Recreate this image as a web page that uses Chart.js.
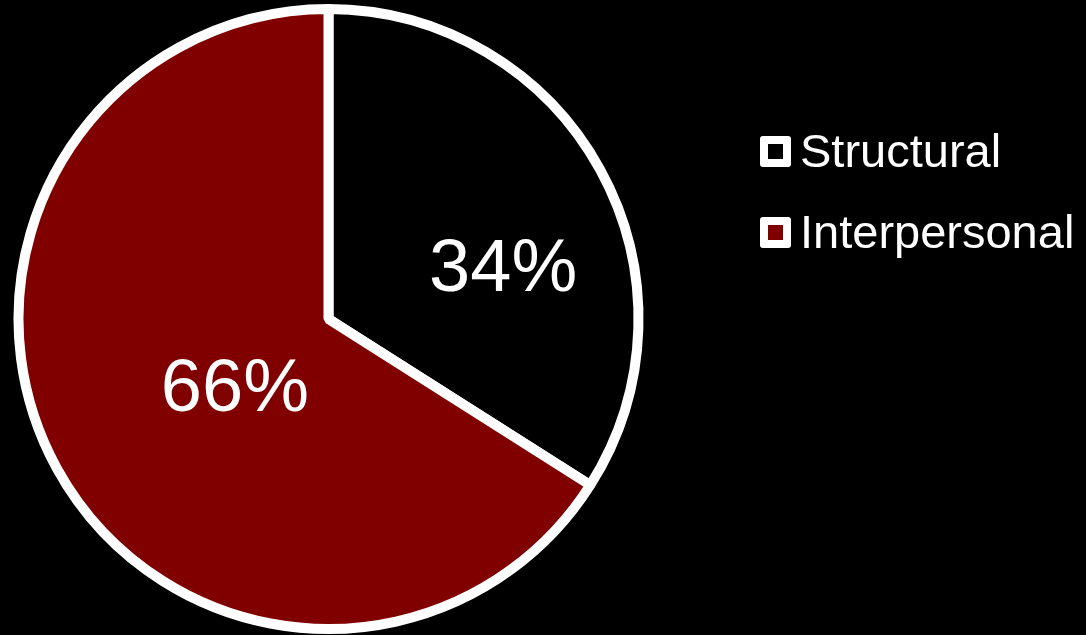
<!DOCTYPE html>
<html>
<head>
<meta charset="utf-8">
<script src="https://cdn.jsdelivr.net/npm/chart.js@4"></script>
<style>
  html, body { margin: 0; padding: 0; background: #000; }
  #wrap { width: 1086px; height: 635px; }
</style>
</head>
<body>
<div id="wrap"><canvas id="pieChart"></canvas></div>
<script>
const categories = ['Structural', 'Interpersonal'];
const shares = [34, 66];
const sliceColors = ['#000000', '#800000'];

// where each % label sits: fraction of radius, angle shift from slice middle (deg)
const labelRadius = [0.585, 0.38];
const labelShift = [13.2, -8.6];

const FONT = '"Liberation Sans", Arial, sans-serif';

const pieLabels = {
  id: 'pieLabels',
  afterDatasetsDraw(chart) {
    const ctx = chart.ctx;
    const arcs = chart.getDatasetMeta(0).data;
    ctx.save();
    ctx.fillStyle = '#fff';
    ctx.font = '74px ' + FONT;
    ctx.textAlign = 'center';
    ctx.textBaseline = 'middle';
    arcs.forEach((arc, i) => {
      const p = arc.getProps(['x', 'y', 'startAngle', 'endAngle', 'outerRadius']);
      const a = (p.startAngle + p.endAngle) / 2 + labelShift[i] * Math.PI / 180;
      const r = p.outerRadius * labelRadius[i];
      ctx.fillText(shares[i] + '%', p.x + Math.cos(a) * r, p.y + Math.sin(a) * r);
    });
    ctx.restore();
  }
};

const sideLegend = {
  id: 'sideLegend',
  afterDraw(chart) {
    const ctx = chart.ctx;
    const x0 = 760, y0 = 136, gap = 81, box = 31, edge = 8;
    ctx.save();
    ctx.font = '47px ' + FONT;
    ctx.textBaseline = 'alphabetic';
    categories.forEach((name, i) => {
      const y = y0 + i * gap;
      ctx.fillStyle = '#fff';
      ctx.beginPath();
      ctx.roundRect(x0, y, box, box, 3);
      ctx.fill();
      ctx.fillStyle = sliceColors[i];
      ctx.fillRect(x0 + edge, y + edge, box - 2 * edge, box - 2 * edge);
      ctx.fillStyle = '#fff';
      ctx.fillText(name, x0 + 40, y + box);
    });
    ctx.restore();
  }
};

new Chart(document.getElementById('pieChart'), {
  type: 'pie',
  data: {
    labels: categories,
    datasets: [{
      data: shares,
      backgroundColor: sliceColors,
      borderColor: '#ffffff',
      borderWidth: 10
    }]
  },
  options: {
    responsive: true,
    maintainAspectRatio: false,
    animation: false,
    layout: { padding: { left: 13, top: 4, right: 442, bottom: 1 } },
    plugins: {
      legend: { display: false },
      tooltip: { enabled: false }
    }
  },
  plugins: [pieLabels, sideLegend]
});
</script>
</body>
</html>
